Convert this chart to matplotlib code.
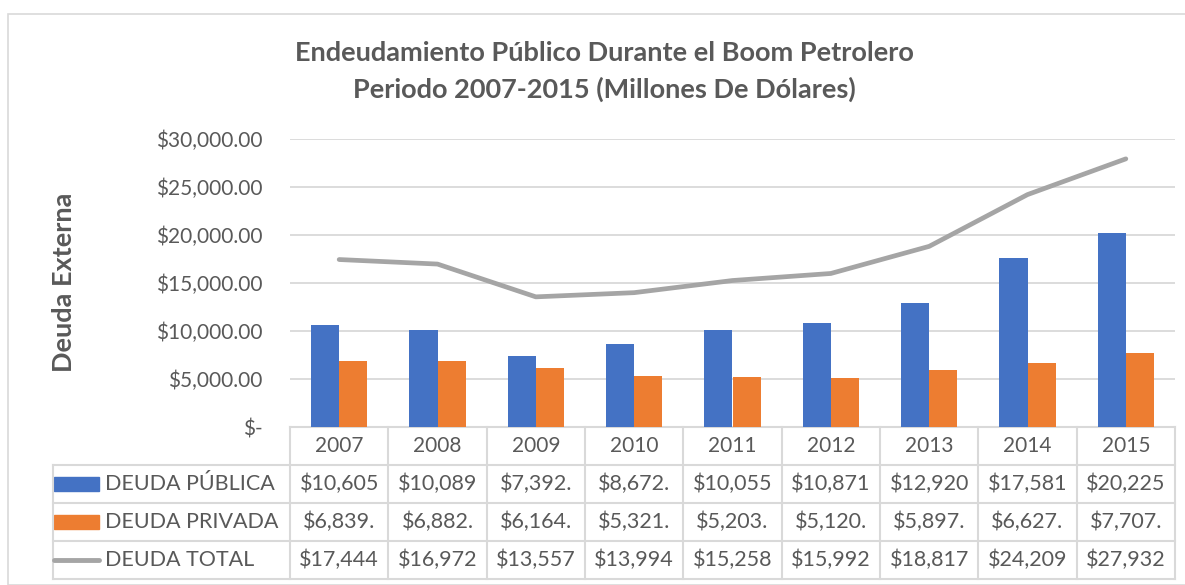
import matplotlib.pyplot as plt
from matplotlib.patches import Rectangle
from matplotlib.lines import Line2D
from matplotlib.transforms import blended_transform_factory

years = ['2007', '2008', '2009', '2010', '2011', '2012', '2013', '2014', '2015']
deuda_publica = [10605, 10089, 7392, 8672, 10055, 10871, 12920, 17581, 20225]
deuda_privada = [6839, 6882, 6164, 5321, 5203, 5120, 5897, 6627, 7707]
deuda_total = [17444, 16972, 13557, 13994, 15258, 15992, 18817, 24209, 27932]
series_names = ['DEUDA PÚBLICA', 'DEUDA PRIVADA', 'DEUDA TOTAL']

BLUE = '#4472C4'
ORANGE = '#ED7D31'
GRAY = '#A5A5A5'
TXT = '#595959'
GRID = '#D9D9D9'

plt.rcParams['font.family'] = ['Lato', 'DejaVu Sans']

W, H = 1185, 585
fig = plt.figure(figsize=(W / 100, H / 100), dpi=100)

# outer chart border
fig.patches.append(Rectangle((8 / W, 0), 1.2, 1 - 14 / H, transform=fig.transFigure,
                             fill=False, edgecolor=GRID, lw=1.2))

left, right, top, bottom = 290, 1175, 139, 427
ax = fig.add_axes([left / W, 1 - bottom / H, (right - left) / W, (bottom - top) / H])

x = list(range(len(years)))
bw = 0.285
ax.bar([i - bw / 2 for i in x], deuda_publica, bw, color=BLUE, zorder=3)
ax.bar([i + bw / 2 for i in x], deuda_privada, bw, color=ORANGE, zorder=3)
ax.plot(x, deuda_total, color=GRAY, lw=3.4, solid_capstyle='round', zorder=4)

ax.set_xlim(-0.5, len(years) - 0.5)
ax.set_ylim(0, 30000)
ax.set_yticks(range(0, 30001, 5000))
ax.set_yticklabels(['$-'] + ['${:,.2f}'.format(v) for v in range(5000, 30001, 5000)])
ax.tick_params(axis='y', length=0, pad=20, labelsize=15, labelcolor=TXT)
ax.set_xticks([])
ax.grid(axis='y', color=GRID, lw=1.3, zorder=0)
for s in ['top', 'right', 'left']:
    ax.spines[s].set_visible(False)
ax.spines['bottom'].set_color(GRID)
ax.spines['bottom'].set_linewidth(1.5)

fig.text(64 / W, 1 - 282 / H, 'Deuda Externa', rotation=90, ha='center', va='center',
         fontsize=19.5, fontweight='bold', color=TXT)

fig.text(604 / W, 1 - 53 / H, 'Endeudamiento Público Durante el Boom Petrolero',
         ha='center', va='center', fontsize=19.5, fontweight='bold', color=TXT)
fig.text(604 / W, 1 - 89 / H, 'Periodo 2007-2015 (Millones De Dólares)',
         ha='center', va='center', fontsize=19.5, fontweight='bold', color=TXT)

# data table below the plot
tr = blended_transform_factory(ax.transData, ax.transAxes)
ph = bottom - top
rows_px = [0, 38, 76, 114, 152]
ry = [-r / ph for r in rows_px]
px_per_cat = (right - left) / len(years)
xl = -0.5 - (left - 53) / px_per_cat
xr = len(years) - 0.5

def tline(xs, ys):
    ax.add_line(Line2D(xs, ys, transform=tr, color=GRID, lw=1.5, clip_on=False))

for k in range(len(years) + 1):
    tline([k - 0.5, k - 0.5], [ry[0], ry[4]])
tline([xl, xl], [ry[1], ry[4]])
for r in ry[1:]:
    tline([xl, xr], [r, r])

for i, y in enumerate(years):
    ax.text(i, (ry[0] + ry[1]) / 2, y, transform=tr, ha='center', va='center',
            fontsize=15, color=TXT)

table_rows = [deuda_publica, deuda_privada, deuda_total]
for j, vals in enumerate(table_rows):
    yc = (ry[j + 1] + ry[j + 2]) / 2
    for i, v in enumerate(vals):
        s = '${:,.2f}'.format(v)[:7]
        ax.text(i, yc, s, transform=tr, ha='center', va='center',
                fontsize=15.5, color=TXT)
    ax.text(xl + 52 / px_per_cat, yc, series_names[j], transform=tr, ha='left',
            va='center', fontsize=15.5, color=TXT)

# legend keys
key_x0 = xl + 1 / px_per_cat
key_x1 = xl + 46 / px_per_cat
for j, c in enumerate([BLUE, ORANGE]):
    yc = (ry[j + 1] + ry[j + 2]) / 2
    ax.add_patch(Rectangle((key_x0, yc - 7 / ph), key_x1 - key_x0, 14 / ph,
                           transform=tr, color=c, clip_on=False))
yc = (ry[3] + ry[4]) / 2
ax.add_line(Line2D([key_x0, key_x1], [yc, yc], transform=tr, color=GRAY, lw=3.5,
                   solid_capstyle='round', clip_on=False))

fig.savefig('out.png', dpi=100)
